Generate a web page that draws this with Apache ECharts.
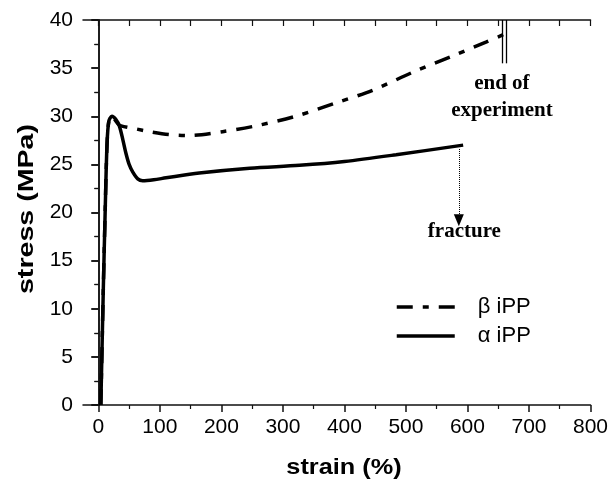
<!DOCTYPE html>
<html>
<head>
<meta charset="utf-8">
<script src="https://cdn.jsdelivr.net/npm/echarts@6/dist/echarts.min.js"></script>
<style>
  html, body { margin: 0; padding: 0; background: #fff; }
  #chart { width: 611px; height: 481px; }
</style>
</head>
<body>
<div id="chart"></div>
<script>
// strain (%), stress (MPa)
const betaData = [
  [4, 0], [8, 12], [11, 20], [14, 27], [17, 29.5], [21, 30], [26, 29.7],
  [32, 29.2], [37, 29.0], [60, 28.7], [83, 28.4], [115, 28.1], [148, 28.0],
  [202, 28.4], [256, 29.0], [321, 30.0], [387, 31.4], [446, 32.7],
  [512, 34.6], [577, 36.3], [630, 37.7], [659, 38.5]
];
const alphaData = [
  [4, 0], [8, 12], [11, 20], [14, 27], [17, 29.5], [22, 30], [28, 29.7],
  [34, 29.0], [40, 27.5], [45, 26.1], [50, 25.0], [56, 24.2], [64, 23.5],
  [72, 23.3], [90, 23.4], [110, 23.6], [164, 24.1], [246, 24.6],
  [327, 24.9], [400, 25.3], [484, 26.0], [593, 27.0]
];
const xLabels = [0, 100, 200, 300, 400, 500, 600, 700, 800];
const xMinor = [50, 150, 250, 350, 450, 550, 650, 750];
const xTop = [0, 50, 100, 150, 200, 250, 300, 350, 400, 450, 500, 550, 600, 650, 700, 750, 800];

const chart = echarts.init(document.getElementById('chart'));
const axisCol = '#111';
const numFont = { fontFamily: 'Liberation Sans', fontSize: 21, color: '#000' };

chart.setOption({
  animation: false,
  grid: { left: 83, right: 20, top: 20, bottom: 76 },
  legend: {
    orient: 'vertical',
    left: 390,
    top: 291,
    itemWidth: 58,
    itemHeight: 14,
    itemGap: 7,
    itemStyle: { opacity: 0 },
    lineStyle: { width: 3.5 },
    textStyle: { fontFamily: 'Liberation Sans', fontSize: 22, color: '#000', padding: [0, 0, 0, 18] },
    data: ['β iPP', 'α iPP']
  },
  graphic: [
    {
      type: 'text', x: 27, y: 209, rotation: Math.PI / 2, scaleX: 1.3,
      style: {
        text: 'stress (MPa)', fontFamily: 'Liberation Sans', fontWeight: 'bold',
        fontSize: 22, fill: '#000', align: 'center', verticalAlign: 'middle'
      }
    },
    {
      type: 'text', x: 344, y: 468, scaleX: 1.15,
      style: {
        text: 'strain (%)', fontFamily: 'Liberation Sans', fontWeight: 'bold',
        fontSize: 22, fill: '#000', align: 'center', verticalAlign: 'middle'
      }
    }
  ],
  xAxis: [
    {
      type: 'value', min: -25, max: 800, position: 'bottom',
      axisLine: { show: true, lineStyle: { color: axisCol, width: 1.5 } },
      axisTick: { show: true, length: 7, customValues: xLabels, lineStyle: { color: axisCol, width: 1.5 } },
      axisLabel: { customValues: xLabels, margin: 12, ...numFont },
      splitLine: { show: false }
    },
    {
      type: 'value', min: -25, max: 800, position: 'bottom',
      axisLine: { show: false },
      axisTick: { show: true, length: 4, customValues: xMinor, lineStyle: { color: axisCol, width: 1.2 } },
      axisLabel: { show: false },
      splitLine: { show: false }
    },
    {
      type: 'value', min: -25, max: 800, position: 'top',
      axisLine: { show: true, lineStyle: { color: axisCol, width: 1.5 } },
      axisTick: { show: true, inside: true, length: 6, customValues: xTop, lineStyle: { color: axisCol, width: 1.2 } },
      axisLabel: { show: false },
      splitLine: { show: false }
    }
  ],
  yAxis: [
    {
      type: 'value', min: 0, max: 40, interval: 5, position: 'left',
      axisLine: { show: true, lineStyle: { color: axisCol, width: 1.5 } },
      axisTick: { show: true, length: 7, lineStyle: { color: axisCol, width: 1.5 } },
      minorTick: { show: true, splitNumber: 2, length: 4, lineStyle: { color: axisCol, width: 1.2 } },
      axisLabel: { margin: 10, ...numFont },
      splitLine: { show: false }
    },
    {
      type: 'value', min: 0, max: 40, interval: 5, position: 'right',
      axisLine: { show: true, lineStyle: { color: axisCol, width: 1.5 } },
      axisTick: { show: true, inside: true, length: 7, lineStyle: { color: axisCol, width: 1.5 } },
      minorTick: { show: true, splitNumber: 2, length: 4, lineStyle: { color: axisCol, width: 1.2 } },
      axisLabel: { show: false },
      splitLine: { show: false }
    }
  ],
  series: [
    {
      name: 'β iPP', type: 'line', data: betaData, xAxisIndex: 0, yAxisIndex: 0,
      symbol: 'none', smooth: 0.3, z: 3,
      lineStyle: { color: '#000', width: 3.5, type: [16, 10, 6, 10] },
      itemStyle: { color: '#000' },
      markLine: {
        silent: true, symbol: 'none', animation: false,
        lineStyle: { color: '#000', width: 1.3, type: 'solid' },
        label: { show: false },
        data: [
          [{ coord: [656, 40] }, { coord: [656, 35.5] }],
          [{ coord: [662.5, 40] }, { coord: [662.5, 35.5] }]
        ]
      },
      markPoint: {
        silent: true, symbol: 'circle', symbolSize: 0,
        data: [{ coord: [656, 32.0] }],
        label: {
          show: true, position: 'inside', formatter: 'end of\nexperiment',
          fontFamily: 'Liberation Serif', fontWeight: 'bold', fontSize: 21, lineHeight: 27, color: '#000', align: 'center'
        }
      }
    },
    {
      name: 'α iPP', type: 'line', data: alphaData, xAxisIndex: 0, yAxisIndex: 0,
      symbol: 'none', smooth: 0.3, z: 4,
      lineStyle: { color: '#000', width: 3.5, type: 'solid' },
      itemStyle: { color: '#000' },
      markLine: {
        silent: true, symbol: ['none', 'triangle'], symbolSize: [10, 12], animation: false,
        lineStyle: { color: '#000', width: 1, type: 'dotted' },
        label: { show: false },
        data: [
          [{ coord: [586, 26.6] }, { coord: [586, 19.2] }]
        ]
      },
      markPoint: {
        silent: true, symbol: 'circle', symbolSize: 0,
        data: [{ coord: [595, 18.0] }],
        label: {
          show: true, position: 'inside', formatter: 'fracture',
          fontFamily: 'Liberation Serif', fontWeight: 'bold', fontSize: 21, color: '#000'
        }
      }
    }
  ]
});
</script>
</body>
</html>
